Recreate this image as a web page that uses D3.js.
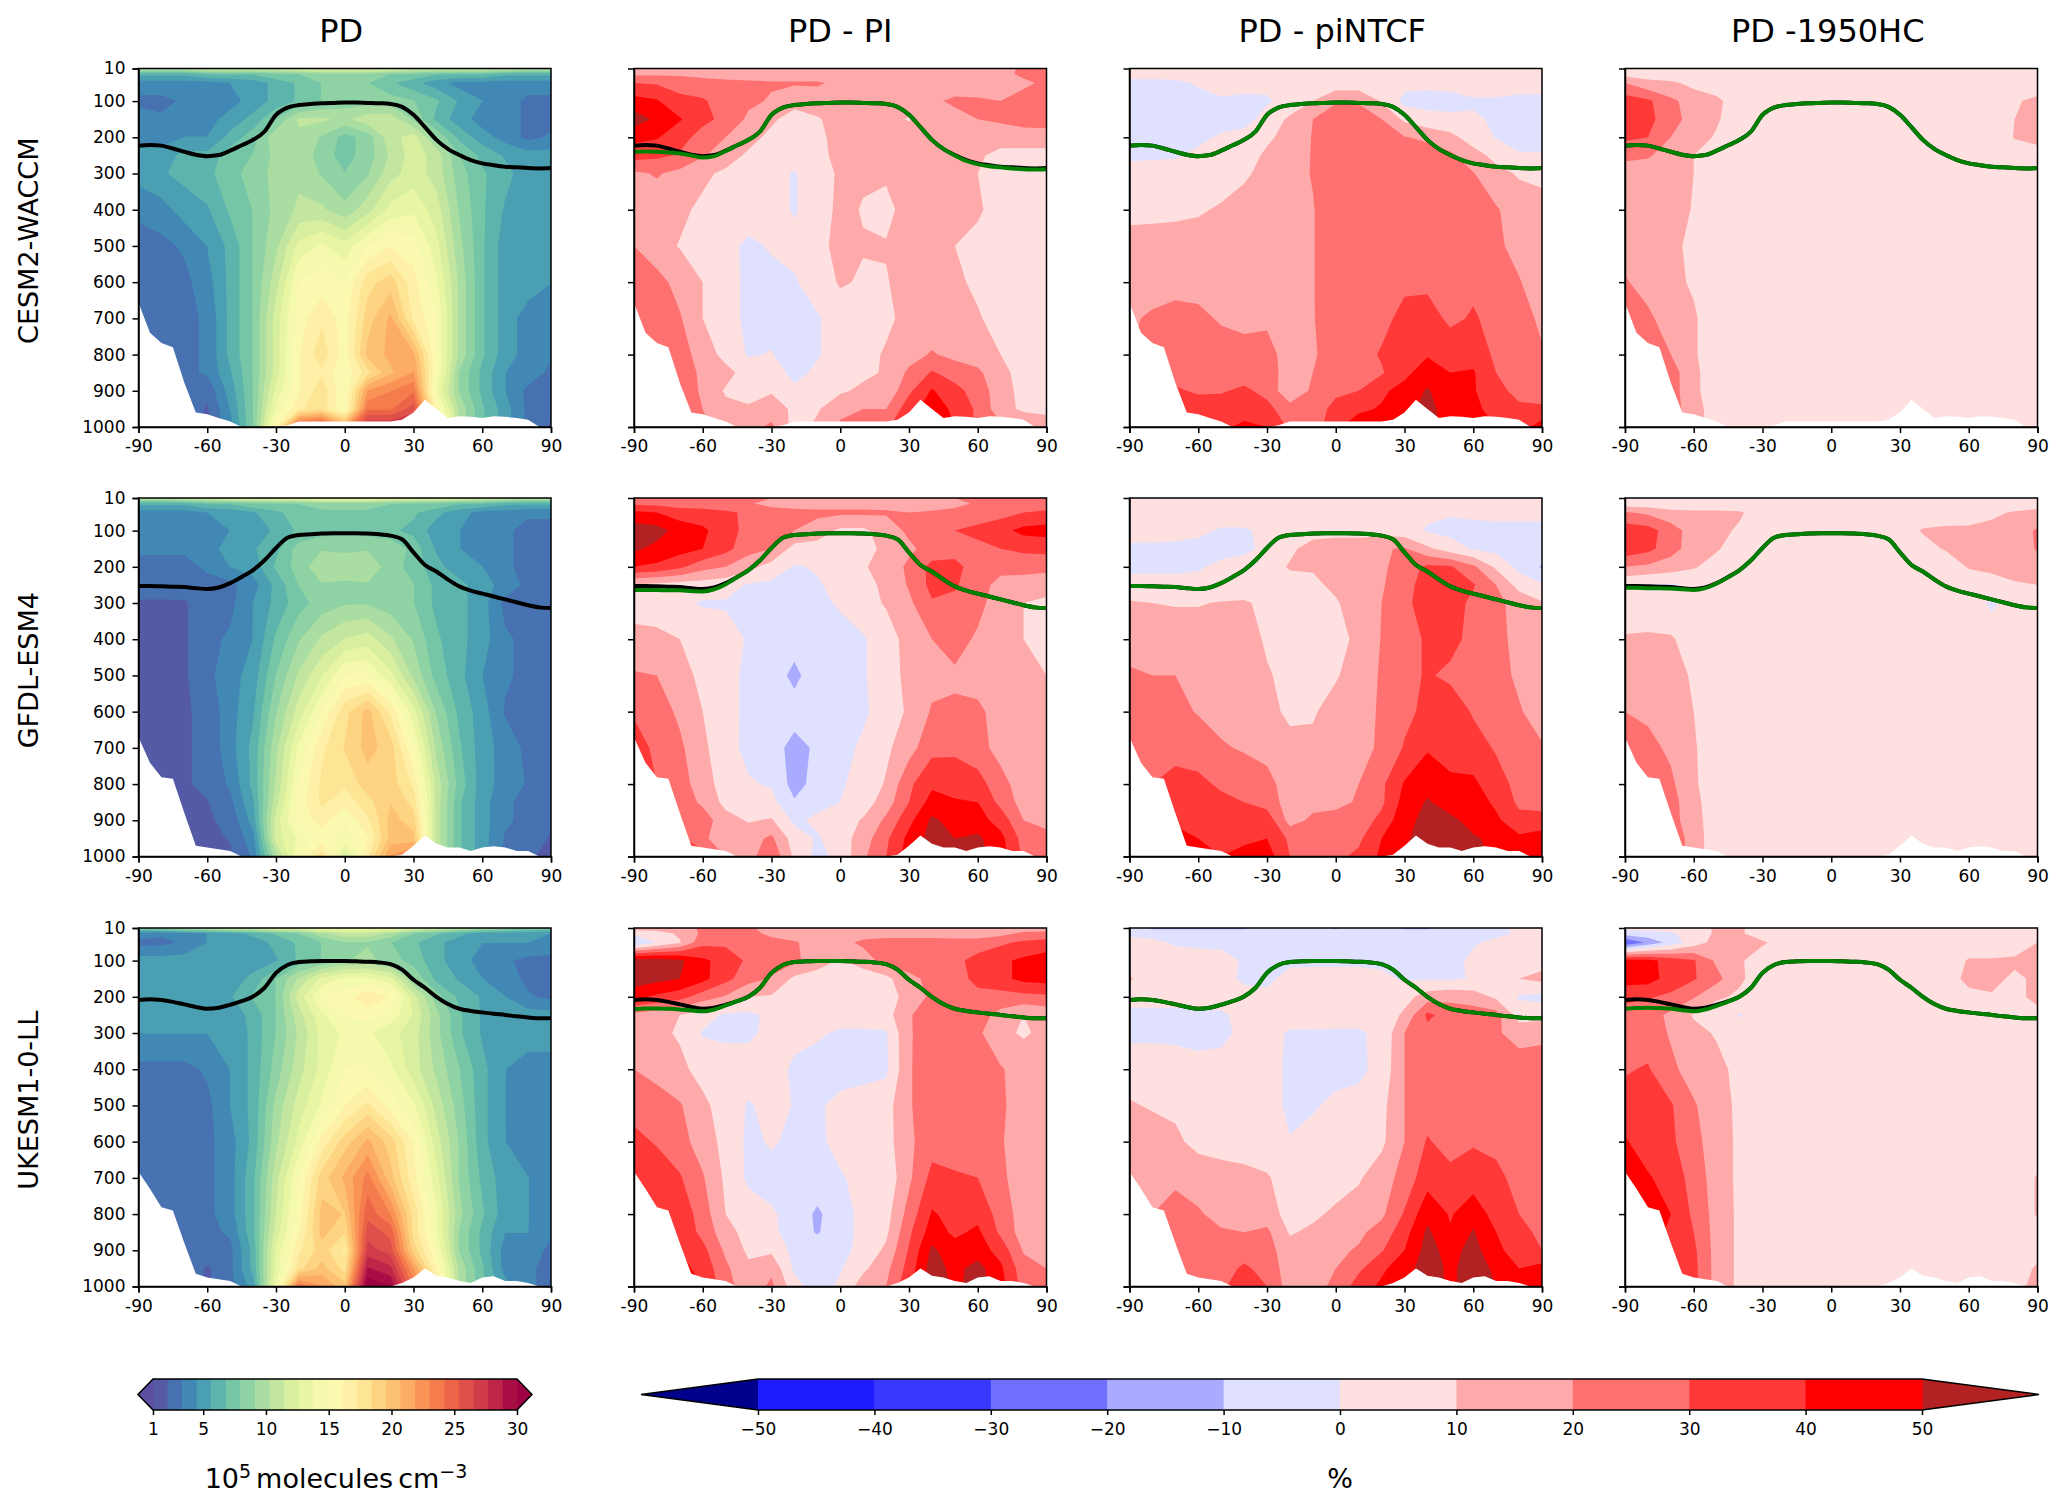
<!DOCTYPE html>
<html>
<head>
<meta charset="utf-8">
<script src="https://cdn.jsdelivr.net/npm/d3@7"></script>
<style>
body { margin: 0; background: #fff; }
text { font-family: "DejaVu Sans", sans-serif; fill: #000; }
</style>
</head>
<body>
<svg id="chart" width="2067" height="1506"></svg>
<script>
var modelNames = ['CESM2-WACCM', 'GFDL-ESM4', 'UKESM1-0-LL'];
var columnTitles = ['PD', 'PD - PI', 'PD - piNTCF', 'PD -1950HC'];
var lats = [-90,-80,-70,-60,-50,-40,-30,-20,-10,0,10,20,30,40,50,60,70,80,90];
var levels = [10,25,50,100,150,200,250,300,400,500,600,700,800,850,900,950,1000];
var surfaceLats = [-90,-85,-80,-75,-70,-65,-60,-55,-50,-45,-40,-35,-30,-25,-20,-15,-10,-5,0,5,10,15,20,25,30,35,40,45,50,55,60,65,70,75,80,85,90];
var xTicks = [-90,-60,-30,0,30,60,90];
var yTicks = [10,100,200,300,400,500,600,700,800,900,1000];
var yTicksOther = [200,400,600,800,1000];
var pdTicks = [1,5,10,15,20,25,30];
var diffTicks = [-50,-40,-30,-20,-10,0,10,20,30,40,50];
var diffColors = ['#1c1cff','#3838ff','#7070ff','#aaaaff','#e0e0ff','#ffe0e0','#ffaaaa','#ff7070','#ff3838','#ff0000'];

// surface pressure, below it there is no data
var surfaceCesm = [657,740,768,780,878,960,965,975,985,1000,1000,1000,1000,995,985,985,985,985,985,985,985,985,985,980,960,925,950,975,970,972,975,970,972,975,980,1000,1000];
var surfaceGfdl = [671,741,781,785,880,970,975,980,985,1000,1000,1000,1000,1000,1000,1000,1000,1000,1000,1000,1000,1000,1000,995,970,942,965,975,975,985,975,972,975,985,985,1000,1000];
var surfaceUkesm = [683,730,781,790,880,965,975,980,985,1000,1000,1000,1000,1000,1000,1000,1000,1000,1000,1000,1000,1000,1000,990,975,950,970,975,985,990,975,972,985,985,990,1000,1000];

// tropopause, black line
var tpCesm = [223,221,223,231,240,248,252,249,237,222,207,184,138,118,111,108,106,105,104,104,105,106,108,116,138,172,207,232,249,263,272,277,281,283,285,286,285];
var tpGfdl = [253,253,254,255,256,259,261,257,245,228,209,182,148,120,112,110,108,107,107,107,108,110,114,124,160,195,213,235,254,266,274,282,290,298,306,312,314];
var tpUkesm = [209,207,209,214,221,228,233,230,222,212,199,175,134,112,104,102,101,101,101,102,103,105,110,125,153,175,200,220,233,239,243,247,250,254,257,259,259];
// tropopause of the experiment, green line
var tpCesmPi = [240,239,240,242,245,250,256,252,238,222,207,184,138,118,111,108,106,105,104,104,105,106,108,116,138,172,207,232,250,265,274,280,283,286,288,289,288];
var tpGfdlPi = [264,264,264,265,265,267,268,262,248,229,209,182,148,120,112,110,108,107,107,107,108,110,114,124,160,195,213,235,254,266,274,282,290,298,306,312,314];
var tpGfdlHc = [258,258,259,259,260,262,264,259,246,229,209,182,148,120,112,110,108,107,107,107,108,110,114,124,160,195,213,235,254,266,274,282,290,298,306,312,314];
var tpUkesmPi = [234,232,232,233,235,238,240,235,224,212,200,175,134,112,104,102,101,101,101,102,103,105,110,125,153,175,200,220,233,239,243,247,250,254,257,259,259];
var tpUkesmHc = [233,231,230,231,233,237,240,235,225,213,200,175,134,112,104,102,101,101,101,102,103,105,110,125,153,175,200,220,233,239,243,247,250,254,257,259,259];

// one row per level, one value per latitude
var pdCesm = [
[11,11,11,12,12,12,12,13,13,13,13,13,12,12,12,12,12,11,11],
[6,6,6,7,7,7,8,8,9,9,9,8,8,7,7,7,6,6,6],
[4,4,4,4,4.5,5,6,7,8,8,8,7,6,5,4,4,4,4,4],
[3,3,3.5,4,4,5,6,7,8,8.5,8.5,8.5,8,7,5.5,4.5,4,3,3],
[4,3.5,4,4,5,6,8,10.5,10.5,10,11,11,9,6.5,5,4,4,3,3],
[4,4,4.5,4.5,6,7.5,10,10,9,7.5,8.5,11,12,9,6.5,5,4,3,3.5],
[5,5,6,6,7.5,8,9.5,10,8.5,7.5,8.5,10.5,12,11,8,6.5,5.5,5,5],
[5,5.5,6,6.5,7.5,8.5,9.5,10,9,8,9,11,12,11,8.5,7,6,5,5],
[3.5,4,5,5.5,7,8,9.5,10.5,10.5,9.5,11,13,13.5,12,9,7,5.5,5,5],
[3,3,3.5,4.5,6,8,10,13,14,13,15,16,15.5,13,9.5,7,5,5,5],
[2.8,3,3,4,6,8,11,15,15.5,15,18,19,16.5,14,10,7,5,5,4.5],
[2.5,2.8,3,3.5,6,8,12,15.5,17,15.5,19,21,17,15,10,7,5,4,4],
[2.5,3,3,3.5,6,8,12,16,18,15.5,20,21,21,15,10,7,5,4,3.5],
[2.5,2.7,3,3.5,5.5,8,12,16,17,15,18,20.5,22,15,9,6.5,4.5,4,3],
[2.5,2.7,3,2.5,5,8,13,16,18,15,22,23,24,14,9,6.5,4.5,3,2.8],
[2.5,2.7,3,2,4.5,8,14,17,18,15,24,24,26,16,10,7,5,3,2.5],
[2.5,2.7,3,2,4,8,16,26,27,22,28,28,28,20,10,7,5,3,2]];
var piCesm = [
[15,15,15,15,15,15,15,15,15,15,15,15,15,15,15,15,16,22,25],
[18,18,18,16,15,15,15,15,15,15,15,15,15,15,15,15,17,22,25],
[30,29,27,25,23,22,21,21,21,18,16,16,16,17,17,16,16,18,22],
[44,41,32,31,26,22,19,14,16,12,12,16,16,19,21,21,20,24,26],
[55,48,41,32,28,18,12,5,9,14,14,14,9,16,18,20,22,26,27],
[43,41,33,27,20,14,7,5,8,13,15,16,17,16,16,14,13,13,13],
[34,32,29,21,15,8,6,5,8,12,14,14,14,14,13,11,8,8,8],
[18,21,17,12,8,6,4,-1,7,11,11,11,14,14,13,10,6,5,5],
[16,14,12,8,6,5,4,-1,6,12,9.5,8,13,14,14,11,7,6,6],
[20,13,9.5,7,3,-2,1,3,8,12,10.5,10.5,13,13,10,8,6,5,5],
[26,24,16,10,5,-3,-3,-1,5,11,9,9.5,13,13,11,9,7,5,5],
[28,26,21,10,5,-3,-3,-4,-1,5,6,8,13,13,13,10.5,8,6,5],
[30,28,25,15,7,-1,0.5,-5,-1,5,7,11,16,21,17,15,10,6,5],
[30,30,28,17,13,6,5,-3,2,6,8,11,22,31,26,22,13,6,5],
[30,30,32,17,9,7,9,2,7,8.5,12,12,28,41,33,26,14,7,5],
[30,30,34,20,12,11,15,8,9,17,20,20,36,45,38,28,14,8,6],
[30,30,36,22,15,16,22,6,12,22,28,28,40,45,40,28,22,20,18]];
var ntcfCesm = [
[5,5,5,5,5,5,5,5,5,5,5,5,5,5,5,5,5,5,5],
[4,4,4,4,4,4,4,4,4,4,4,4,4,4,4,4,4,4,4],
[-3,-3,-2,1,3,3,2,2,3,4,4,2,3,2,3,4,4,5,5],
[-4,-4,-4,-3,-1,-2,-1,3,10,19,19,9,-3,-3,-3,-1,-1,-3,-3],
[-4,-4,-4,-4,-3,-3,3,12,20,25,25,20,8,3,2,1,-1,-3,-3],
[-3,-3,-3,-2,1,3,8,14,20.5,25,27,26,20.5,18,13,5,-0.5,-2,-2],
[-1,-1,-1,2,3,5,12,16,20.5,25,27,27,26,25,22,14,7,0.5,0.5],
[2,3,4,5,6,8,14,17,20.5,25,26,27,27,26,25,20.5,13,9,8],
[7,7.5,8,9,11,15,18,18,19.5,26,26,27,28,28,28,26,21,15,13],
[14,14,14,14,15,15,15,16,19.5,26,26,27,28,28,28,27,23,15,13],
[16,17,17,17,17,17,18,18,19.5,26,26,27,28,28,28,28,25,21,12],
[19,21,23,22,19,17,18,18,19.5,25,26,27,33,34,28,31,27,24,18],
[20,24,25,26,24,24,24,15,19,24,26,31,35,39,36,36,28,24,21],
[22,26,27,25,25,25,27,13,20,24,26,29,37,46,40,41,30,27,23],
[30,30,31,29,29,32,27,12,22,28,30,38,44,51,43,41,33,27,24],
[30,30,30,34,35,36,33,24,25,33,38,41,46,54,44,42,37,32,32],
[30,30,30,36,38,42,40,28,24,38,46,40,45,54,46,43,40,35,45]];
var hcCesm = [
[3,3,3,3,3,3,3,3,3,3,3,3,3,3,3,3,3,3,3],
[6,5,3,3,3,3,3,3,3,3,3,3,3,3,3,3,3,3,3],
[20,13,12,7,5,3,3,3,3,3,3,3,3,3,3,3,3,3,5],
[35,32,22,16,12,5,3,3,3,3,3,3,3,3,3,3,3,9,12],
[38,33,24,16,11,5,3,3,3,3,3,3,3,3,3,3,3,10,13],
[32,30,20,14,9,3,3,3,3,3,3,3,3,3,3,3,3,10.5,13],
[22,21,16,10,4,3,3,3,3,3,3,3,3,3,3,3,3,5,6],
[16,15,13,10,5,3,3,3,3,3,3,3,3,3,3,3,3,3,3],
[15,14,13,9.5,5,3,3,3,3,3,3,3,3,3,3,3,3,3,3],
[15,14,12,8,4,3,3,3,3,3,3,3,3,3,3,3,3,3,3],
[21,16,12,9,4,3,3,3,3,3,3,3,3,3,3,3,3,3,3],
[25,22,15,11,5,3,3,3,3,3,3,3,3,3,3,3,3,3,3],
[28,22,20,11,5,3,3,3,3,3,3,3,3,3,3,3,3,3,3],
[30,25,25,12,5,3,3,3,3,3,3,3,3,3,3,3,3,3,3],
[30,25,25,12,5,3,3,3,3,3,3,3,3,3,3,3,3,3,3],
[30,28,25,14,5,3,3,3,3,3,3,3,3,3,3,3,3,3,3],
[30,28,25,14,5,3,3,3,3,3,3,3,3,3,3,3,3,3,3]];

var pdGfdl = [
[11,11,12,12,13,13,13,14,14,14,14,14,13,13,13,12,12,11,11],
[6,6,6,7,7,8,8,8,9,9,9,8,8,8,7,7,6,6,6],
[4,4,4,4.5,5,5.5,6.5,7.5,7.5,7.5,7.5,7.5,7,6,5,4,4,3.5,3.5],
[3.5,3.5,3.5,3.5,4.5,4.5,6,7,7.5,7.5,7.5,7,6.5,5,4.5,4,3.5,3,3],
[3.5,3.5,3.5,3.5,5.5,5.5,6.5,8.5,9,9,9,9,7.5,5.5,4.5,4,3.5,3,3],
[3,3,3,3.5,4.5,5,7,8.5,10,9.5,10,8.5,7.5,6,5,4.5,3.5,3,3],
[2.8,2.8,3,3,3,4,6,8,9,9,9,9,8,6.5,6,5,4,3,3],
[2,2,2,3,3,4.5,6,7.5,8.5,9,9,8.5,8,6.5,6,5,3,3,3],
[2,2,2,3,3.5,4.5,7,9,10.5,11.5,12,10.5,9,7,6,5,3.5,3,3],
[2,2,2,3,4,5,8,10.5,12.5,15,15,13,10,7.5,6,4.5,3.5,3,3],
[2,2,2,2.5,4,5.5,9,12,15,18,20,17,13,9,6.5,5,3.2,3,3],
[2,2,2,2.5,4,6,10,14,17,18.5,20,19,15,10,7,5,4,3,3],
[2,2,2,2.5,3.5,6,10.5,15,17.5,17.5,19,19,17,11,7.5,5,4,3.2,3],
[2,2,2,2.1,3,5.5,11,15.5,17.5,16.5,18,19.5,18,11,7,5,3.5,3,3],
[2,2,2,2,2.5,5,12,15.5,16.5,15,17,20,19,11,7,5,3.5,3,2.8],
[2,2,2,2,2.2,4,12,14,15.5,14.5,16,20,20,11,7,5,3.2,3,2],
[2,2,2,2,2,3.5,10,15,18,12,17,22,24,11,7,5,3,2.5,1.5]];
var piGfdl = [
[24,24,24,24,22,21,20,20,20,20,20,20,20,20,20,20,22,23,24],
[28,27,25,24,22,21,17,17,16,16,16,17,16,16,18,21,22,23,24],
[42,40,35,34,32,28,24,22,22,22,22,21,20,21,22,24,26,30,32],
[56,54,46,42,34,27,24,20,16,8,8,15,22,27,30,33,37,43,44],
[52,47,44,40,33,24,20,6,5,5,7,12,18,24,26,27,30,32,33],
[40,38,32,24,20,13,6,-1,1,6,9,14,22,33,33,25,24,24,23],
[9,7,6,5,4,-1,-2,-3,-1,3,7,12,21,33,31,25,16,15,14],
[6,6,2,-1,-1,-1,-2,-3,-2,1,6,11,18,29,28,24,13,10,8],
[13,12,10,7,4,-1,-4,-5,-4,-3,-1,5,14,20,25,18,13,10,6],
[21,20,13,8,3,-2,-4,-13,-3,-2,-1,5,13,17,18,16,13,12,10],
[29,25,18,10,3,-2,-4,-5,-3,-2,-1,3,12,21,22,22,16,14,12],
[34,28,22,12,4,-3,-5,-14,-8,-2,1,8,16,27,28,24,16,14,12],
[30,30,25,14,6,1,-1,-14,-6,-1,3,11,28,38,36,34,24,14,12],
[30,30,26,18,7,6,3,-9,-3,0,5,15,30,44,41,40,27,16,12],
[30,30,30,25,14,9,11,-2,2,5,11,22,37,52,46,44,36,20,18],
[30,30,32,22,14,16,22,5,-1,5,15,28,43,54,50,52,43,26,22],
[30,30,35,35,20,16,28,8,-3,3,18,30,45,55,52,54,45,28,28]];
var ntcfGfdl = [
[5,5,5,5,5,5,5,5,5,5,5,5,5,5,5,5,5,5,5],
[5,5,5,5,5,5,5,5,5,5,5,5,5,5,5,5,5,5,5],
[5,5,5,5,5,5,5,5,5,5,5,5,5,2,1,2,3,3,3],
[4,4,3,2,-1,-1,2,4,6,6,6,6,4,-1,-3,-3,-3,-3,-3],
[-2,-2,-2,-3,-3,-2,2,8,14,16,16,19,21,12,5,-1,-3,-3,-3],
[-2,-2,-2,-1,2,4,5,11,11,15,16,18,25,32,31,22,8,-3,-11],
[3,3,3,3,4,5,6,6,8,12,16,19,26,35,35,31,20,6,1],
[11,10,9.5,9.5,10.5,11,8,6,5,9,15,20,27,36,36,27,22,17,11],
[14,14,14,14,14,15,8.5,6,5,7,12,20.5,27,31,33,27,24,16,13],
[22,20,20,17,16,15,11,7,6,9,15,21,27,31,28,27,24,18,14],
[27,25,22,19.5,17,15,13,8,9,14,17,21,27,33,36,29,26,21,15],
[30,27,27,24,21,19,16,13,12,14,18,21,31,39,36,34,29,26,21],
[30,30,33,33,28,26,24,14,13,15,20,28,41,47,42,42,34,27,24],
[35,36,36,36,33,30,26,15,17,15,22,28,44,51,46,45,38,28,25],
[40,40,38,38,36,36,36,16,22,27,24,33,47,53,52,47,42,33,35],
[40,40,44,40,37,37,40,28,24,27,28,40,48,56,55,51,48,42,44],
[40,40,45,42,40,45,45,30,25,28,32,42,50,56,56,54,48,46,46]];
var hcGfdl = [
[3,3,3,3,3,3,3,3,3,3,3,3,3,3,3,3,3,3,3],
[4,4,3,3,3,3,3,3,3,3,3,3,3,3,3,3,3,3,5],
[21,18,13,12,12,11,6,4,3,2,2,2,3,3,4,5,8,11,13],
[36,34,25,15,12,9,4,3,3,3,3,3,4,11,12,12,13,16,21],
[37,33,24,15,11,5,3,3,3,3,3,3,3,6,11,12,13,14,21],
[20,18,15,11,6,3,3,3,3,3,3,3,3,3,3,11,13,14,14],
[1,-1,-1,2,3,3,3,3,3,3,3,3,3,3,3,3,5,9,10],
[4,2,3,3,3,3,3,3,3,3,3,3,3,3,3,3,-1,3,2],
[11,12,11,6,4,3,3,3,3,3,3,3,3,3,3,3,3,3,3],
[14,14,13,9,4,3,3,3,3,3,3,3,3,3,3,3,3,3,3],
[20,18,14,10,4,3,3,3,3,3,3,3,3,3,3,3,3,3,3],
[24,23,18,11,4,3,3,3,3,3,3,3,3,3,3,3,3,3,3],
[28,25,22,11.5,4,3,3,3,3,3,3,3,3,3,3,3,3,3,3],
[30,25,24,13,4,3,3,3,3,3,3,3,3,3,3,3,3,3,3],
[30,25,24,14,4,3,3,3,3,3,3,3,3,3,3,3,3,3,3],
[30,25,28,15,4,3,3,3,3,3,3,3,3,3,3,3,3,3,3],
[30,25,28,15,4,3,3,3,3,3,3,3,3,3,3,3,3,3,3]];

var pdUkesm = [
[8,9,10,11,12,12,13,13,14,14,14,14,13,12,11,10,9,8,8],
[4,3.5,4,4.5,5,6,7,8,10,11,11,10,8,7,6,5,5,5,4.5],
[3,3,3.5,4.5,4.5,5,6,7,8,9,9,8,7,6,5,4.5,4.5,4.5,4],
[5,5,5,5,5,5,5.5,7,8,9,9.5,8.5,7.5,6,5,4,3.5,3,3],
[5,5,5,5,5,6,8,10.5,13,14,14,13,9,6.5,5.5,4.5,4,3,3],
[5,5,5,5,5.5,7,8,12,15,15.5,17,16,12,8.5,6.5,5.5,4.5,3.5,3],
[5,4.5,4.5,4.5,5,6,8,11,13.5,15,15.5,14.5,12.5,9.5,7,5.5,5,5,5],
[4.5,4.5,4.5,4.5,4.5,6,8,10.5,13,14,14,13,12,9.5,7,5.5,5,5,5],
[3,3,3,3.5,4.5,6,8.5,11,13,15,15,14,12,10,8,6,4.5,4,4],
[3,3,3,3,4.5,6,9.5,12,14,16,17.5,15.5,14,11,8.5,6,4.5,3.5,3.5],
[3,3,3,3,4,6,10,13,16.5,19,21,19,16,12,9,6,4.5,4,3.8],
[3,3,3,3,4,6.5,11,15,19,21,23.5,20,16.5,13,9,6.5,5,4.5,4],
[3,3,3,3,4,6.5,11.5,15.5,20,19.5,25,23,18,14,9.5,7,5,4.5,4],
[3,3,3,3,3.5,6.5,12,16,20,18.5,26,25,18,14,9,6.5,4.5,4.5,3.5],
[3,3,3,3,3,6,13,17,19,17,27,26,19,15,9,6.5,4,4,3],
[3,3,3,2,3,6,13,18,20,18,29,28,22,16,10,7,4,3.5,3],
[3,3,3,2,3,5,14,24,22,20,31,30,24,18,10,7,5,3.5,3]];
var piUkesm = [
[15,15,15,22,22,22,15,15,15,15,15,15,15,15,15,15,15,15,15],
[3,5,12,22,25,24,17,15,15,16,16,16,16,16,15,15,17,22,23],
[-11,0,9,27,28,25,24,21,16,17,22,24,24,24,24,24,28,32,34],
[56,56,52,42,36,28,24,22,15,9,15,24,24,26,27,34,38,42,45],
[56,53,50,43,33,24,19,8,5,4,4,7,18,22,24,34,37,43,44],
[43,38,34,25,19,10,9,5,4,4,4,5,14,22,24,26,26,27,28],
[17,14,10,5,-2,-2,2,3,3,3,3,6,19,26,26,24,17,10,13],
[14,12,9,-1,-2,-2,3,3,1,-1,-1,-1,19,25,26,22,12,9,12],
[20,17,12,7,5,5,5,-2,-3,-3,-3,-2,19,26,26,24,21,15,14],
[26,24,21,12,6,-1,3,-0.5,-1,2,4,6,19,26,26,24,22,14,13],
[33,29,24,15,7,-2,1,-2,-2,3,5,6,18,26,26,24,21,14,13],
[38,36,31,21,8,-2,-3,-3,-3,-1,3,3,18,33,31,30,22,15,13],
[38,38,37,25,10,5,1,-3,-12,-3,2,6,24,41,37,37,26,15,13],
[38,38,38,27,14,6,2,-4,-11,-3,2,8,28,45,38,42,28,15,13],
[38,38,40,33,18,8,8,-3,-3,-3,3,12,31,52,44,45,36,19,15],
[38,38,43,37,22,12,18,-2,-2,-1,8,17,34,55,47,54,42,24,20],
[38,38,45,40,24,14,22,4,-5,2,15,20,38,56,48,54,44,26,24]];
var ntcfUkesm = [
[-3,-12,-12,-12,-12,-12,-2,-3,-3,-12,-2,-3,-12,-12,-2,-2,-1,1,1],
[-2,-3,-3,-3,-3,-3,-3,-3,-3,-3,-3,-3,-3,-3,-3,-3,-2,1,1],
[3,2,-1,-2,-2,-3,-3,-3,-3,-3,-3,-3,-3,-3,-3,-1,2,3,3],
[5,4,4,4,3,-1,-1,-2,-2,-2,-2,-2,-2,-3,-3,2,3,5,6],
[11,5,3,3,2,-1,-2,3,4,4,4,2,-1,-1,-1,0.5,4,10,13],
[3,3,3,3,3,2,2,2,4,4,5,4,6,15,17,15,8,-1,-3],
[-2,-2,-2,-2,-1,2,3,4,4,3,3,3,12,32,26,25,24,5,6],
[-2,-2,-2,-3,-2,2,3,-1,-1,-1,-1,2,20,27,25,22,21,17,18],
[5,5,4,3,3,4,4,-2,-3,-3,-2,3,20,25,25,25,24,24,24],
[11,9,8,7,6,5,4,-2,-1,2,3,7,20,25,25,25,25,25,25],
[16,15,12,7,6,5,4,0.5,3,3,4,8,20,31,26,29,27,25,25],
[20,19,18,16,14,13,11,5,4,5,9,15,24,36,33,35,33,26,25],
[20,20,24,21,17,14,15,6,8,12,14,18,31,47,39,46,36,30,26],
[20,25,27,25,21,20,22,9,12,15,18,24,36,52,41,51,40,34,27],
[20,30,28,26,24,25,24,14,15,18,21,29,40,54,46,54,42,36,30],
[20,36,31,25,25,32,26,15,17,20,28,38,46,55,48,55,48,40,44],
[20,36,36,30,28,36,30,15,17,22,35,42,48,55,48,55,50,42,46]];
var hcUkesm = [
[3,3,3,3,12,12,3,3,3,3,3,3,3,3,3,3,3,3,6],
[-5,-3,-1,3,12,12,3,3,3,3,3,3,3,3,3,3,3,3,6],
[-30,-18,-6,5,14,15,12,3,3,3,3,3,3,3,3,3,3,3,10],
[44,43,36,31,18,12,2,3,3,3,3,3,3,3,3,11,11,12,14],
[44,44,36,31,23,12,4,3,3,3,3,3,3,3,3,14,13,8,12],
[33,31,28,21,12,8,3,3,3,3,3,3,3,3,3,6,9,8,12],
[25,24,18,9,3,-0.5,3,3,3,3,3,3,3,3,3,3,3,5,8],
[26,25,19,13,9,3,3,3,3,3,3,3,3,3,3,3,3,3,3],
[29,31,22,16,13,7,3,3,3,3,3,3,3,3,3,3,3,3,3],
[34,32,31,21,14,8,3,3,3,3,3,3,3,3,3,3,3,3,3],
[41,35,32,23,15,8,3,3,3,3,3,3,3,3,3,3,3,3,3],
[50,41,36,26,15,8,3,3,3,3,3,3,3,3,3,3,3,3,11],
[50,45,40,28,16,8,3,3,3,3,3,3,3,3,3,3,3,3,11],
[50,45,38,30,16,8,3,3,3,3,3,3,3,3,3,3,3,3,7],
[50,45,38,32,16,8,3,3,3,3,3,3,3,3,3,3,3,3,5],
[50,45,40,33,16,8,3,3,3,3,3,3,3,3,3,3,3,3,12],
[50,45,40,33,16,8,3,3,3,3,3,3,3,3,3,3,3,6,14]];

var fields = [[pdCesm,piCesm,ntcfCesm,hcCesm],[pdGfdl,piGfdl,ntcfGfdl,hcGfdl],[pdUkesm,piUkesm,ntcfUkesm,hcUkesm]];
var surfaces = [surfaceCesm,surfaceGfdl,surfaceUkesm];
var tpBlack = [tpCesm,tpGfdl,tpUkesm];
var tpGreen = [[null,tpCesmPi,tpCesm,tpCesm],[null,tpGfdlPi,tpGfdl,tpGfdlHc],[null,tpUkesmPi,tpUkesm,tpUkesmHc]];

var svg = d3.select('#chart');
var panelW = 412.5, panelH = 358.5;
var colX = [138.5,634,1129.5,1625];
var rowY = [68.5,498,928];
var tickFont = 17;

var xScale = d3.scaleLinear().domain([-90,90]).range([0,panelW]);
var yScale = d3.scaleLinear().domain([10,1000]).range([0,panelH]);
var pdBins = d3.range(26).map(function(i){ return 1 + i * 29 / 25; });
var pdColors = d3.range(25).map(function(i){ return d3.interpolateSpectral(1 - (i + 0.5) / 25); });
var pdUnder = '#5e4fa2', pdOver = '#9e0142';
var diffBins = diffTicks;
var diffUnder = '#00008b', diffOver = '#b22222';

// grid index to data, d3.contours puts value i at i + 0.5
var gridX = d3.scaleLinear().domain(lats.map(function(d,i){ return i + 0.5; })).range(lats);
var gridY = d3.scaleLinear().domain(levels.map(function(d,i){ return i + 0.5; })).range(levels);
var path = d3.geoPath(d3.geoTransform({
	point: function(x,y){ this.stream.point(xScale(gridX(x)), yScale(gridY(y))); }
}));
var contours = d3.contours().size([lats.length, levels.length]);

var tpLine = d3.line()
	.x(function(d,i){ return xScale(surfaceLats[i]); })
	.y(function(d){ return yScale(d); })
	.curve(d3.curveMonotoneX);
var surfaceArea = d3.area()
	.x(function(d,i){ return xScale(surfaceLats[i]); })
	.y0(panelH + 2)
	.y1(function(d){ return yScale(d); });

function styleAxis(g){
	g.selectAll('path').attr('stroke','#000').attr('stroke-width',1.5);
	g.selectAll('line').attr('stroke','#000').attr('stroke-width',1.5);
	g.selectAll('text').style('font-size',tickFont + 'px').style('font-family','"DejaVu Sans", sans-serif');
}

fields.forEach(function(row,r){
	row.forEach(function(field,c){
		var g = svg.append('g').attr('transform','translate(' + colX[c] + ',' + rowY[r] + ')');
		var clipId = 'clip' + r + c;
		g.append('clipPath').attr('id',clipId).append('rect').attr('width',panelW).attr('height',panelH);
		var plot = g.append('g').attr('clip-path','url(#' + clipId + ')');
		var bins = c == 0 ? pdBins : diffBins;
		var colors = c == 0 ? pdColors : diffColors;
		var over = c == 0 ? pdOver : diffOver;
		var under = c == 0 ? pdUnder : diffUnder;

		plot.append('rect').attr('width',panelW).attr('height',panelH).attr('fill',under);
		contours.thresholds(bins)(d3.merge(field)).forEach(function(band,i){
			plot.append('path').attr('d',path(band)).attr('fill',i < colors.length ? colors[i] : over);
		});

		plot.append('path').datum(surfaces[r]).attr('d',surfaceArea).attr('fill','#fff');
		plot.append('path').datum(tpBlack[r]).attr('d',tpLine).attr('fill','none').attr('stroke','#000').attr('stroke-width',4);
		if (tpGreen[r][c]) {
			plot.append('path').datum(tpGreen[r][c]).attr('d',tpLine).attr('fill','none').attr('stroke','#008000').attr('stroke-width',4);
		}

		g.append('rect').attr('width',panelW).attr('height',panelH).attr('fill','none').attr('stroke','#000').attr('stroke-width',1.5);

		g.append('g').attr('transform','translate(0,' + panelH + ')')
			.call(d3.axisBottom(xScale).tickValues(xTicks).tickFormat(function(d){ return String(d); }).tickSize(6).tickPadding(7))
			.call(styleAxis);
		var yAxis = d3.axisLeft(yScale).tickSize(6);
		if (c == 0) yAxis.tickValues(yTicks).tickFormat(function(d){ return String(d); }).tickPadding(7);
		else yAxis.tickValues(yTicksOther).tickFormat('');
		g.append('g').call(yAxis).call(styleAxis);

		if (r == 0) {
			svg.append('text').attr('x',colX[c] + panelW / 2 - (c == 1 ? 0 : 3.5)).attr('y',42)
				.attr('text-anchor','middle').style('font-size','32px').text(columnTitles[c]);
		}
		if (c == 0) {
			svg.append('text').attr('transform','translate(38,' + (rowY[r] + panelH / 2 - 7) + ') rotate(-90)')
				.attr('text-anchor','middle').style('font-size','27px').text(modelNames[r]);
		}
	});
});

// colour bars
function colorBar(x0,x1,tipL,tipR,domain,bins,colors,under,over,ticks){
	var barY = 1379, barH = 31;
	var scale = d3.scaleLinear().domain(domain).range([x0,x1]);
	var g = svg.append('g').attr('transform','translate(0,' + barY + ')');
	g.append('path').attr('d','M' + x0 + ',0L' + tipL + ',' + barH / 2 + 'L' + x0 + ',' + barH + 'Z').attr('fill',under);
	g.append('path').attr('d','M' + x1 + ',0L' + tipR + ',' + barH / 2 + 'L' + x1 + ',' + barH + 'Z').attr('fill',over);
	g.selectAll('rect').data(colors).enter().append('rect')
		.attr('x',function(d,i){ return scale(bins[i]); })
		.attr('width',function(d,i){ return scale(bins[i + 1]) - scale(bins[i]) + 0.5; })
		.attr('height',barH)
		.attr('fill',function(d){ return d; });
	g.append('path')
		.attr('d','M' + x0 + ',0L' + x1 + ',0L' + tipR + ',' + barH / 2 + 'L' + x1 + ',' + barH + 'L' + x0 + ',' + barH + 'L' + tipL + ',' + barH / 2 + 'Z')
		.attr('fill','none').attr('stroke','#000').attr('stroke-width',1.5);
	var axis = g.append('g').attr('transform','translate(0,' + barH + ')')
		.call(d3.axisBottom(scale).tickValues(ticks).tickFormat(d3.format('d')).tickSize(5).tickPadding(8))
		.call(styleAxis);
	axis.select('path').remove();
}
colorBar(153,517,138,532,[1,30],pdBins,pdColors,pdUnder,pdOver,pdTicks);
colorBar(758,1922,641,2039,[-50,50],diffBins,diffColors,diffUnder,diffOver,diffTicks);

var unitLabel = svg.append('text').attr('x',336).attr('y',1488).attr('text-anchor','middle').style('font-size','27px');
unitLabel.append('tspan').text('10');
unitLabel.append('tspan').attr('dy',-10).style('font-size','19px').text('5');
unitLabel.append('tspan').attr('dy',10).attr('dx',5).text('molecules');
unitLabel.append('tspan').attr('dx',5).text('cm');
unitLabel.append('tspan').attr('dy',-10).style('font-size','19px').text('\u22123');
svg.append('text').attr('x',1340).attr('y',1488).attr('text-anchor','middle').style('font-size','27px').text('%');
</script>
</body>
</html>
